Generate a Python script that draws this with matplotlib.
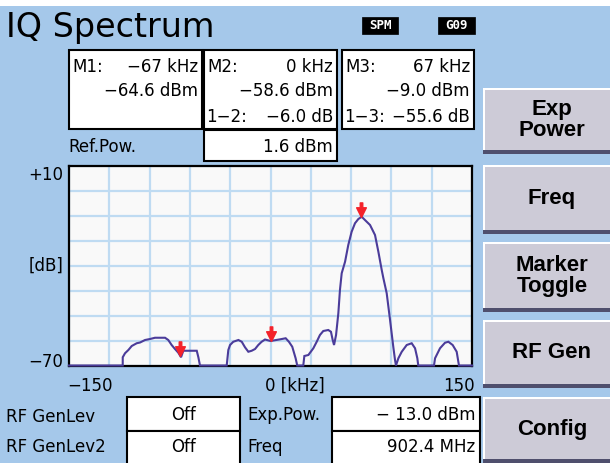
import matplotlib
matplotlib.use("Agg")
import matplotlib.pyplot as plt
from matplotlib.patches import Rectangle
from matplotlib.path import Path

W, H = 610, 463

# ---------------- data ----------------
freq_khz = [-150, -110, -110, -108.3, -105.8, -103.3, -99.6, -97.1, -93.4, -89.7, -86.0,
            -78.5, -76.1, -73.6, -71.1, -68.6, -66.6, -64.9, -54.9, -53.7, -52.5,
            -32.6, -31.4, -30.1, -27.7, -23.9, -21.4, -19.0, -16.5, -14.0, -11.5, -9.1,
            -6.6, -4.1, 0, 7.5, 11.3, 13.7, 16.2, 18.7, 19.9, 24.4, 25.2, 28.2, 31.9,
            34.4, 36.8, 39.3, 43.0, 45.0, 46.3, 47.3, 48.8, 50.5, 51.7, 53.0, 55.5,
            57.9, 60.4, 62.9, 65.4, 67.9, 70.3, 74.1, 77.8, 80.3, 82.8, 84.0, 86.5,
            89.0, 91.4, 92.7, 93.4, 95.2, 97.7, 101.4, 105.1, 107.6, 109.3, 110.0,
            121.7, 122.5, 126.2, 129.9, 132.4, 135.6, 138.6, 140.3, 150]
level_db = [-70, -70, -66.7, -65.1, -63.8, -62.2, -61.1, -60.8, -59.8, -59.4, -58.9,
            -58.9, -59.8, -61.8, -63.4, -64.9, -66.7, -64.1, -64.1, -66.7, -70,
            -70, -63.8, -61.8, -60.5, -59.8, -60.5, -62.7, -64.5, -64.1, -63.4, -61.8,
            -60.5, -59.6, -60.2, -59.5, -59.1, -60.5, -62.5, -67.1, -70, -70, -66.2,
            -65.8, -63.1, -60.5, -57.8, -56.2, -55.8, -56.5, -59.8, -61.8, -57.8,
            -49.1, -39.8, -33.1, -28.5, -21.8, -16.5, -13.1, -11.4, -10.5, -11.8,
            -13.8, -17.8, -24.5, -31.8, -35.0, -41.1, -51.8, -62.5, -67.8, -70,
            -67.1, -64.5, -61.8, -61.1, -63.1, -67.1, -70, -70, -67.1, -63.1, -60.9,
            -60.5, -61.8, -64.5, -70, -70]

ref_pow_dbm = 1.6
marker_names = ["M1", "M2", "M3"]
marker_freq_khz = [-67, 0, 67]
marker_dbm = [-64.6, -58.6, -9.0]
delta_labels = ["", "1\u22122:", "1\u22123:"]
delta_db = [None, -6.0, -55.6]

x_ticks = [-150, 0, 150]
y_range = [-70, 10]
button_labels = ["Exp\nPower", "Freq", "Marker\nToggle", "RF Gen", "Config"]

# ---------------- styling ----------------
BG = "#a5c8ea"
PLOT_BG = "#f9f9f9"
GRID = "#bfdbf2"
TRACE = "#4b3c9a"
RED = "#f4222a"
BTN = "#cdcbd7"
BTN_DARK = "#4f4f6d"
FONT = "DejaVu Sans"

fig = plt.figure(figsize=(W / 100, H / 100), dpi=100, facecolor=BG)


def fx(x):
    return x / W


def fy(y):
    return 1 - y / H


def rect(x0, y0, x1, y1, fc="white", ec="black", lw=1.5, z=1):
    fig.add_artist(Rectangle((fx(x0), fy(y1)), (x1 - x0) / W, (y1 - y0) / H,
                             transform=fig.transFigure, fc=fc, ec=ec, lw=lw, zorder=z))


def txt(x, y, s, ha="left", size=12, **kw):
    kw.setdefault("family", FONT)
    fig.text(fx(x), fy(y), s, ha=ha, va="center", size=size, zorder=5, **kw)


# top white strip
rect(0, 0, W, 6, fc="white", ec="none", lw=0)

# title
txt(6, 27, "IQ Spectrum", size=24)

# status badges
for x0, x1, s in [(362, 398, "SPM"), (438, 475, "G09")]:
    rect(x0, 17, x1, 34, fc="black", ec="black", lw=0.5)
    txt((x0 + x1) / 2, 25.5, s, ha="center", size=9, color="white", weight="bold",
        family="DejaVu Sans Mono")

# marker readout boxes
boxes = [(69, 202), (204, 337), (342, 474)]
for i, (x0, x1) in enumerate(boxes):
    rect(x0, 50, x1, 129)
    txt(x0 + 3, 67, marker_names[i] + ":", size=12)
    txt(x1 - 4, 67, f"{marker_freq_khz[i]} kHz".replace("-", "\u2212"), ha="right", size=12)
    txt(x1 - 4, 91, f"{marker_dbm[i]:.1f} dBm".replace("-", "\u2212"), ha="right", size=12)
    if delta_db[i] is not None:
        txt(x0 + 2, 117, delta_labels[i], size=12)
        txt(x1 - 4, 117, f"{delta_db[i]:.1f} dB".replace("-", "\u2212"), ha="right", size=12)

txt(68, 147, "Ref.Pow.", size=12)
rect(204, 130, 337, 161)
txt(333, 147, f"{ref_pow_dbm:.1f} dBm", ha="right", size=12)

# spectrum axes
ax = fig.add_axes([fx(69), fy(365.5), 403 / W, 200 / H])
ax.set_facecolor(PLOT_BG)
ax.set_xlim(x_ticks[0], x_ticks[-1])
ax.set_ylim(*y_range)
ax.set_xticks(range(-150, 151, 30))
ax.set_yticks(range(-70, 11, 10))
ax.tick_params(length=0, labelbottom=False, labelleft=False)
ax.grid(True, color=GRID, lw=1.6)
ax.set_axisbelow(True)
for sp in ax.spines.values():
    sp.set_linewidth(1.6)
    sp.set_color("black")

ax.plot(freq_khz, level_db, color=TRACE, lw=1.5, zorder=3, clip_on=False,
        solid_joinstyle="miter")

arrow = Path([(0, 0), (0.5, 1.0), (0.13, 1.0), (0.13, 1.5), (-0.13, 1.5),
              (-0.13, 1.0), (-0.5, 1.0), (0, 0)],
             [Path.MOVETO] + [Path.LINETO] * 6 + [Path.CLOSEPOLY])
marker_rel = [m - ref_pow_dbm for m in marker_dbm]
ax.plot(marker_freq_khz, marker_rel, ls="none", marker=arrow, markersize=21,
        color=RED, mec=RED, zorder=4, clip_on=False)

# axis labels
txt(63, 175, "+10", ha="right", size=12)
txt(63, 266, "[dB]", ha="right", size=12)
txt(63, 362, "\u221270", ha="right", size=12)
txt(90, 386, f"{x_ticks[0]}".replace("-", "\u2212"), ha="center", size=12)
txt(265, 386, f"{x_ticks[1]} [kHz]", size=12)
txt(475, 386, f"{x_ticks[2]}", ha="right", size=12)

# bottom status fields
txt(6, 417, "RF GenLev", size=12)
txt(6, 447, "RF GenLev2", size=12)
rect(127, 397, 240, 431)
rect(127, 431, 240, 466)
txt(183, 415, "Off", ha="center", size=12)
txt(183, 447, "Off", ha="center", size=12)
txt(247, 415, "Exp.Pow.", size=12)
txt(247, 447, "Freq", size=12)
rect(332, 397, 480, 431)
rect(332, 431, 480, 466)
txt(475, 415, "\u2212 13.0 dBm", ha="right", size=12)
txt(475, 447, "902.4 MHz", ha="right", size=12)

# soft buttons
btn_rows = [(88, 154), (165, 234), (242, 312), (320, 388), (397, 463)]
for (y0, y1), lab in zip(btn_rows, button_labels):
    rect(483, y0, 612, y1, fc=BTN, ec="none", lw=0, z=1)
    rect(483, y1 - 4, 612, y1, fc=BTN_DARK, ec="none", lw=0, z=2)
    rect(483, y0, 612, y0 + 2, fc="white", ec="none", lw=0, z=2)
    rect(483, y0, 485, y1 - 4, fc="white", ec="none", lw=0, z=2)
    txt(552, (y0 + y1) / 2 - 1, lab, ha="center", size=16, weight="bold",
        family="Liberation Sans", linespacing=1.0)

fig.savefig("out.png", dpi=100, facecolor=BG)
